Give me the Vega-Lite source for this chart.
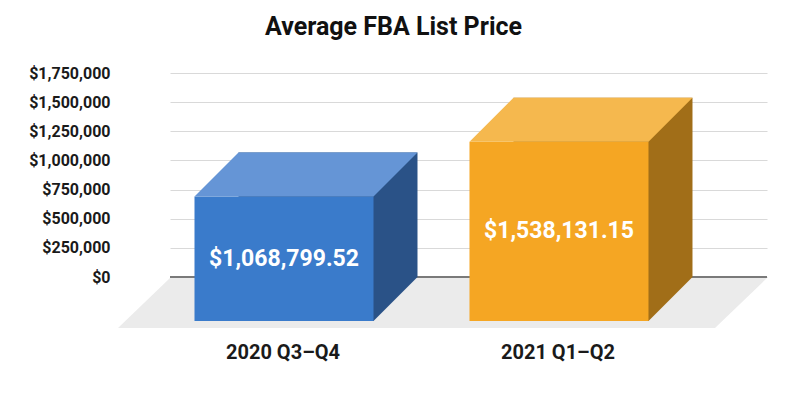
{
  "$schema": "https://vega.github.io/schema/vega-lite/v6.json",
  "width": 597,
  "height": 204,
  "autosize": {"type": "none"},
  "padding": {"left": 170, "top": 73, "right": 33, "bottom": 119},
  "background": "white",
  "title": {
    "text": "Average FBA List Price",
    "font": "Roboto",
    "fontSize": 25,
    "fontWeight": "bold",
    "color": "#111111",
    "anchor": "middle",
    "dx": -75,
    "baseline": "alphabetic",
    "offset": 5
  },
  "data": {
    "values": [
      {"period": "2020 Q3–Q4", "price": 1068799.52},
      {"period": "2021 Q1–Q2", "price": 1538131.15}
    ]
  },
  "layer": [
    {
      "mark": {"type": "bar", "width": 179},
      "encoding": {
        "x": {
          "field": "period",
          "type": "nominal",
          "sort": null,
          "scale": {"type": "band", "paddingInner": 0, "paddingOuter": 0.0855, "align": 0.436},
          "axis": {
            "title": null,
            "labelFont": "Roboto",
            "labelFontSize": 20,
            "labelFontWeight": "bold",
            "labelColor": "#1a1a1a",
            "labelOffset": -45,
            "labelPadding": 65,
            "labelAngle": 0,
            "ticks": false,
            "tickSize": 0,
            "domain": false,
            "grid": false
          }
        },
        "y": {
          "field": "price",
          "type": "quantitative",
          "scale": {"domain": [0, 1750000], "nice": false},
          "axis": {
            "title": null,
            "format": "$,.0f",
            "values": [0, 250000, 500000, 750000, 1000000, 1250000, 1500000, 1750000],
            "labelOverlap": false,
            "labelFont": "Roboto",
            "labelFontSize": 16,
            "labelFontWeight": "bold",
            "labelColor": "#1a1a1a",
            "labelPadding": 60,
            "ticks": false,
            "tickSize": 0,
            "domain": false,
            "grid": true,
            "gridColor": "#d9d9d9",
            "gridWidth": 1
          }
        },
        "y2": {"datum": 0},
        "color": {"condition": {"test": "datum.price < 1300000", "value": "#2a5287"}, "value": "#a16e18"}
      }
    },
    {
      "data": {"values": [{"floor": 1}]},
      "mark": {"type": "point", "shape": "M0,1 L597,1 L545,51 L-52,51 Z", "size": 4, "filled": true, "opacity": 1, "color": "#ebebeb", "strokeWidth": 0},
      "encoding": {
        "x": {"value": 0},
        "y": {"datum": 0, "type": "quantitative", "scale": {"domain": [0, 1750000], "nice": false}, "axis": null}
      }
    },
    {
      "data": {"values": [{"floor": 1}]},
      "mark": {"type": "rule", "color": "#7a7a7a", "strokeWidth": 2},
      "encoding": {
        "x": {"value": 0},
        "x2": {"value": "width"},
        "y": {"datum": 0, "type": "quantitative", "scale": {"domain": [0, 1750000], "nice": false}, "axis": null}
      }
    },
    {
      "mark": {"type": "point", "shape": "M44,-1 L89.5,-1 L89.5,0 L45.5,44 L44,44 Z", "size": 4, "filled": true, "opacity": 1, "strokeWidth": 0},
      "encoding": {
        "x": {"field": "period", "type": "nominal"},
        "y": {"datum": 0, "type": "quantitative", "scale": {"domain": [0, 1750000], "nice": false}, "axis": null},
        "color": {"condition": {"test": "datum.price < 1300000", "value": "#2a5287"}, "value": "#a16e18"}
      }
    },
    {
      "mark": {"type": "bar", "width": 179, "xOffset": -44, "yOffset": 44, "y2Offset": 44},
      "encoding": {
        "x": {"field": "period", "type": "nominal"},
        "y": {"field": "price", "type": "quantitative", "scale": {"domain": [0, 1750000], "nice": false}, "axis": null},
        "y2": {"datum": 0},
        "color": {"condition": {"test": "datum.price < 1300000", "value": "#3a7bcb"}, "value": "#f5a623"}
      }
    },
    {
      "mark": {"type": "point", "shape": "M-89.5,0 L89.5,0 L45.5,44 L-133.5,44 Z", "size": 4, "filled": true, "opacity": 1, "strokeWidth": 0},
      "encoding": {
        "x": {"field": "period", "type": "nominal"},
        "y": {"field": "price", "type": "quantitative", "scale": {"domain": [0, 1750000], "nice": false}, "axis": null},
        "color": {"condition": {"test": "datum.price < 1300000", "value": "#6595d6"}, "value": "#f5b84e"}
      }
    },
    {
      "mark": {"type": "text", "font": "Roboto", "fontSize": 23, "fontWeight": "bold", "color": "#ffffff", "xOffset": -44, "yOffset": 44, "baseline": "middle", "align": "center"},
      "encoding": {
        "x": {"field": "period", "type": "nominal"},
        "y": {"field": "price", "type": "quantitative", "scale": {"domain": [0, 3500000], "nice": false}, "axis": null},
        "text": {"field": "price", "type": "quantitative", "format": "$,.2f"}
      }
    }
  ],
  "resolve": {"scale": {"y": "independent"}},
  "config": {"view": {"stroke": null}}
}
